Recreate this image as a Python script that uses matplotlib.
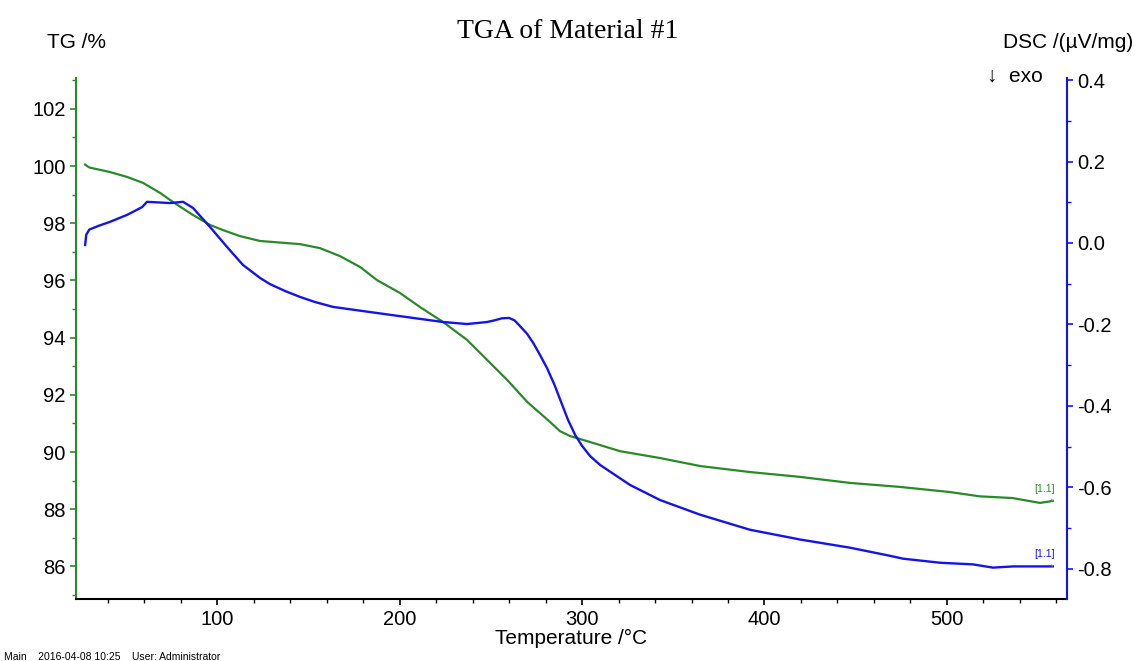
import matplotlib
matplotlib.use("Agg")
import matplotlib.pyplot as plt
from matplotlib.ticker import MultipleLocator

# TG curve (temperature in degC, mass in %)
tg_temp = [27.7, 30.0, 41.4, 50.7, 59.5, 68.8, 75.9, 86.8, 96.2, 103.3, 112.6, 123.6,
           145.5, 156.4, 167.4, 178.4, 187.7, 200.3, 211.2, 223.8, 237.0, 248.0, 259.0,
           270.0, 282.5, 287.9, 293.4, 304.4, 320.8, 342.7, 364.7, 392.0, 419.5, 446.8,
           474.2, 501.6, 518.0, 536.0, 551.0, 558.0]
tg_mass = [100.05, 99.95, 99.79, 99.62, 99.41, 99.06, 98.74, 98.29, 97.94, 97.76, 97.55, 97.38,
           97.27, 97.13, 96.85, 96.47, 96.01, 95.56, 95.07, 94.55, 93.92, 93.22, 92.52,
           91.75, 91.05, 90.73, 90.56, 90.35, 90.03, 89.79, 89.51, 89.30, 89.13, 88.92,
           88.78, 88.60, 88.45, 88.39, 88.22, 88.29]

# DSC curve (temperature in degC, signal in uV/mg)
dsc_temp = [27.7, 28.3, 30.0, 35.0, 41.4, 50.7, 58.9, 61.6, 74.2, 81.4, 86.8, 96.2, 105.5,
            114.2, 123.6, 129.0, 137.3, 145.5, 153.7, 163.6, 191.0, 223.8, 237.0, 248.0,
            252.0, 256.0, 260.0, 263.0, 266.0, 269.9, 273.2, 277.0, 280.8, 284.7, 288.5,
            292.3, 296.2, 300.0, 304.4, 309.9, 326.3, 342.7, 364.7, 392.0, 419.5, 446.8,
            468.8, 475.9, 496.2, 514.2, 525.2, 536.2, 558.0]
dsc_sig = [-0.005, 0.020, 0.033, 0.042, 0.052, 0.069, 0.088, 0.101, 0.098, 0.101, 0.086, 0.039, -0.010,
           -0.054, -0.086, -0.101, -0.118, -0.1325, -0.145, -0.157, -0.174, -0.194, -0.199, -0.194,
           -0.190, -0.185, -0.184, -0.190, -0.204, -0.223, -0.245, -0.275, -0.307, -0.346, -0.390,
           -0.434, -0.471, -0.498, -0.523, -0.545, -0.594, -0.631, -0.667, -0.704, -0.728, -0.748,
           -0.768, -0.775, -0.785, -0.789, -0.797, -0.794, -0.794]

green = "#2a8a2a"
blue = "#1414e6"
sans = ["Liberation Sans", "DejaVu Sans"]

plt.rcParams["font.family"] = sans

fig = plt.figure(figsize=(11.36, 6.61), dpi=100)
ax = fig.add_axes([0.0669, 0.0938, 0.8724, 0.7882])
ax2 = ax.twinx()

ax.plot(tg_temp, tg_mass, color=green, lw=1.6)
ax2.plot(dsc_temp, dsc_sig, color=blue, lw=1.7)

ax.set_xlim(22.7, 565.8)
ax.set_ylim(84.86, 103.08)

ax.xaxis.set_major_locator(MultipleLocator(100))
ax.xaxis.set_minor_locator(MultipleLocator(20))
ax.yaxis.set_major_locator(MultipleLocator(2))
ax.yaxis.set_minor_locator(MultipleLocator(1))
ax2.yaxis.set_major_locator(MultipleLocator(0.2))
ax2.yaxis.set_minor_locator(MultipleLocator(0.1))
ax2.yaxis.set_major_formatter(lambda v, pos: "%.1f" % (0.0 if abs(v) < 1e-9 else v))
ax2.set_ylim(-0.874, 0.405)

for a in (ax, ax2):
    a.spines["top"].set_visible(False)
ax.spines["right"].set_visible(False)
ax.spines["left"].set_color(green)
ax.spines["left"].set_linewidth(1.5)
ax.spines["bottom"].set_linewidth(1.5)
ax2.spines["left"].set_visible(False)
ax2.spines["bottom"].set_visible(False)
ax2.spines["right"].set_color(blue)
ax2.spines["right"].set_linewidth(1.5)

ax.tick_params(axis="x", which="major", direction="out", length=4, width=1.2, labelsize=14.5, pad=4)
ax.tick_params(axis="x", which="minor", direction="out", length=3, width=1.0)
ax.tick_params(axis="y", which="major", direction="out", length=4, width=1.2, color=green, labelsize=14.5)
ax.tick_params(axis="y", which="minor", direction="out", length=3, width=1.0, color=green)
ax2.tick_params(axis="y", which="major", direction="out", length=4, width=1.2, color=blue, labelsize=14.5)
ax2.tick_params(axis="y", which="minor", direction="out", length=3, width=1.0, color=blue)

ax.set_xlabel("Temperature /°C", fontsize=15, labelpad=0)

fig.text(0.5, 0.952, "TGA of Material #1", ha="center", va="center",
         fontsize=20, family=["Liberation Serif", "DejaVu Serif"])
fig.text(47 / 1136, 1 - 43 / 661, "TG /%", ha="left", va="center", fontsize=15)
fig.text(1133 / 1136, 1 - 43 / 661, "DSC /(µV/mg)", ha="right", va="center", fontsize=15)
fig.text(1043 / 1136, 1 - 76 / 661, "↓  exo", ha="right", va="center", fontsize=15, family=sans)
fig.text(4 / 1136, 1 - 657 / 661, "Main    2016-04-08 10:25    User: Administrator",
         ha="left", va="center", fontsize=7.5)

# curve labels with thin leaders
ax.annotate("[1.1]", xy=(tg_temp[-1], tg_mass[-1]), xytext=(-6, 5), textcoords="offset points",
            ha="center", va="bottom", fontsize=7.5, color=green,
            arrowprops=dict(arrowstyle="-", color="#9a9a9a", lw=0.6))
ax2.annotate("[1.1]", xy=(dsc_temp[-1], dsc_sig[-1]), xytext=(-6, 5), textcoords="offset points",
             ha="center", va="bottom", fontsize=7.5, color=blue,
             arrowprops=dict(arrowstyle="-", color="#9a9a9a", lw=0.6))

fig.savefig("out.png", dpi=100)
